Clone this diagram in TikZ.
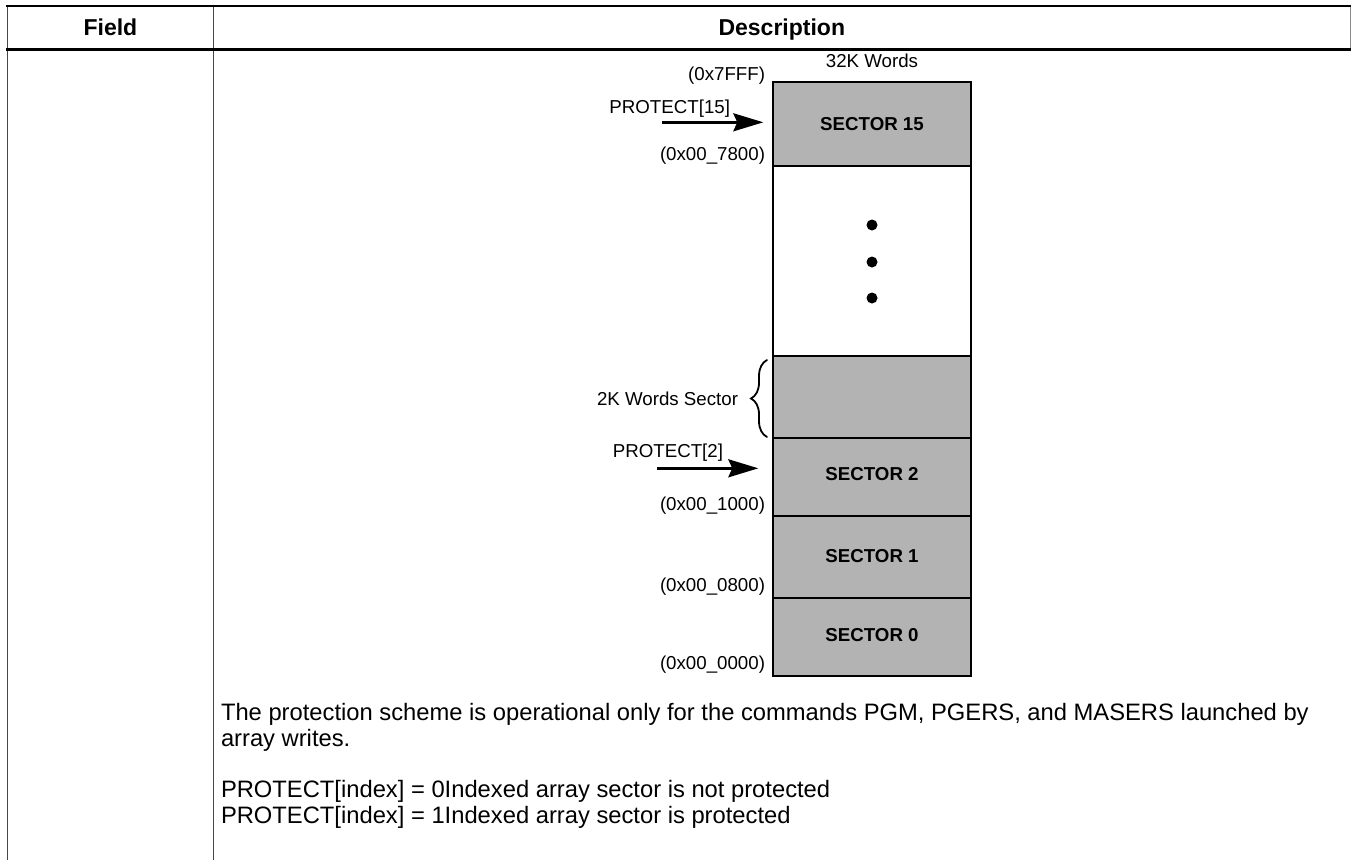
\documentclass[tikz,border=0pt]{standalone}
\usepackage{fontspec}
\setmainfont{Liberation Sans}
\usetikzlibrary{arrows.meta,decorations.pathreplacing}
\definecolor{secgray}{RGB}{179,179,179}
\definecolor{rulegray}{RGB}{70,70,70}
\newcommand\lblfont{\fontsize{18.7pt}{22pt}\selectfont}
\newcommand\secfont{\fontsize{18.7pt}{22pt}\selectfont\bfseries}
\newcommand\hdrfont{\fontsize{23pt}{27pt}\selectfont\bfseries}
\newcommand\bodyfont{\fontsize{23.75pt}{26pt}\selectfont}
\begin{document}
\begin{tikzpicture}[x=1pt,y=-1pt,
  sect/.style={draw=black, line width=1.8pt, fill=secgray, minimum width=197.4pt, inner sep=0pt, outer sep=0pt, anchor=north},
  blankbox/.style={sect, fill=white},
  lbl/.style={font=\lblfont, inner sep=0pt, outer sep=0pt},
  seclbl/.style={font=\secfont, inner sep=0pt, outer sep=0pt, anchor=base},
  hdr/.style={font=\hdrfont, inner sep=0pt, outer sep=0pt, anchor=base},
  body/.style={font=\bodyfont, inner sep=0pt, outer sep=0pt, anchor=base west},
  arr/.style={line width=2.6pt, -{Stealth[length=30pt,width=18pt,inset=4pt]}},
  dotmark/.style={circle, fill=black, inner sep=0pt, minimum size=11pt},
  bracemark/.style={decorate, decoration={brace, amplitude=16pt}, line width=1.8pt, line cap=round},
  thickrule/.style={line width=2.4pt, black},
  vrule/.style={line width=1.3pt, rulegray}
]
\useasboundingbox (0,0) rectangle (1351,860);

% table rules
\draw[vrule] (7.5,5) -- (7.5,860);
\draw[vrule] (213.3,5) -- (213.3,860);
\draw[line width=0.9pt, black!45] (1350.3,6) -- (1350.3,49.5);
\draw[thickrule] (6,6) -- (1351,6);
\draw[thickrule] (6,49.5) -- (1351,49.5);

% header
\node[hdr] (hfield) at (110.4,35) {Field};
\node[hdr] (hdesc) at (781.8,35) {Description};

% memory map
\node[sect, minimum height=84.5pt] (s15) at (872,81.7) {};
\node[blankbox, minimum height=189.8pt] (gap) at (872,166.2) {};
\node[sect, minimum height=82pt] (s3) at (872,356) {};
\node[sect, minimum height=77.7pt] (s2) at (872,438) {};
\node[sect, minimum height=82.6pt] (s1) at (872,515.7) {};
\node[sect, minimum height=77.4pt] (s0) at (872,598.3) {};

\node[seclbl] (t15) at (872,130) {SECTOR 15};
\node[seclbl] (t2) at (872,480) {SECTOR 2};
\node[seclbl] (t1) at (872,562) {SECTOR 1};
\node[seclbl] (t0) at (872,641) {SECTOR 0};

\node[dotmark] (d1) at (872,225) {};
\node[dotmark] (d2) at (872,262) {};
\node[dotmark] (d3) at (872,298) {};

% labels
\node[lbl, anchor=base] (w32) at (872,67) {32K Words};
\node[lbl, anchor=base east] (a7fff) at (765,80) {(0x7FFF)};
\node[lbl, anchor=base east] (p15) at (730,113) {PROTECT[15]};
\node[lbl, anchor=base east] (a7800) at (765,160) {(0x00\_7800)};
\node[lbl, anchor=base east] (w2k) at (738,405.7) {2K Words Sector};
\node[lbl, anchor=base east] (p2) at (723,457) {PROTECT[2]};
\node[lbl, anchor=base east] (a1000) at (765,510) {(0x00\_1000)};
\node[lbl, anchor=base east] (a0800) at (765,591) {(0x00\_0800)};
\node[lbl, anchor=base east] (a0000) at (765,669) {(0x00\_0000)};

% arrows
\coordinate (a15) at (662,122.3);
\draw[arr, shorten >=10pt] (a15) -- (a15 -| s15.west);
\coordinate (a2) at (657,468.3);
\draw[arr, shorten >=15pt] (a2) -- (a2 -| s2.west);

% brace
\draw[bracemark] (767,437) -- (767,360);

% body text
\node[body] (l1) at (221,720) {The protection scheme is operational only for the commands PGM, PGERS, and MASERS launched by};
\node[body] (l2) at (221,746) {array writes.};
\node[body] (l3) at (221,797) {PROTECT[index] = 0Indexed array sector is not protected};
\node[body] (l4) at (221,823) {PROTECT[index] = 1Indexed array sector is protected};
\end{tikzpicture}
\end{document}
